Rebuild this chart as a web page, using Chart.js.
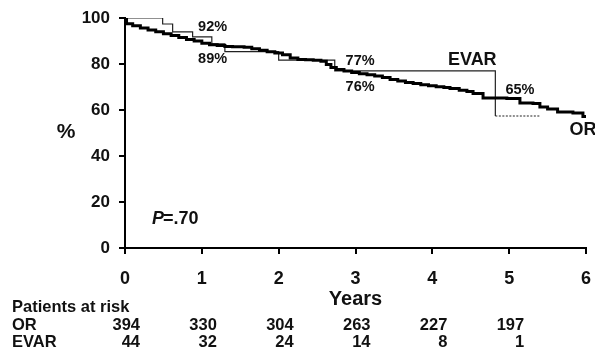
<!DOCTYPE html>
<html>
<head>
<meta charset="utf-8">
<script src="https://cdn.jsdelivr.net/npm/chart.js@4.4.1/dist/chart.umd.min.js"></script>
<style>
  html, body { margin: 0; padding: 0; background: #fff; }
  #wrap { width: 595px; height: 352px; }
</style>
</head>
<body>
<div id="wrap"><canvas id="km" width="595" height="352"></canvas></div>
<script>
// Kaplan-Meier survival, OR vs EVAR
const orYears = [0, 0.02, 0.1, 0.2, 0.3, 0.4, 0.5, 0.6, 0.7, 0.8, 0.9, 1.0, 1.1, 1.2, 1.3, 1.4,
  1.55, 1.65, 1.75, 1.85, 1.95, 2.05, 2.15, 2.25, 2.35, 2.45, 2.55, 2.62, 2.68, 2.75, 2.85, 2.95,
  3.05, 3.15, 3.25, 3.35, 3.45, 3.55, 3.65, 3.75, 3.85, 3.95, 4.05, 4.15, 4.23, 4.35, 4.45, 4.53, 4.66,
  4.97, 5.14, 5.31, 5.4, 5.5, 5.63, 5.83, 5.96, 6.0];
const orSurv = [100, 97.5, 96.6, 95.6, 94.8, 94.0, 93.2, 92.4, 91.5, 90.7, 90.0, 89.0, 88.4, 88.0, 87.6, 87.5,
  87.3, 86.6, 86.0, 85.3, 84.8, 84.0, 82.6, 82.0, 81.8, 81.6, 81.2, 79.8, 78.5, 77.6, 77.0, 76.3,
  75.8, 75.3, 74.8, 74.1, 73.3, 72.6, 72.0, 71.5, 71.0, 70.5, 70.1, 69.8, 69.4, 68.6, 68.0, 67.2, 65.2,
  65.0, 63.0, 62.8, 61.3, 60.4, 59.1, 58.7, 57.2, 57.2];

const evarYears = [0, 0.49, 0.62, 0.88, 1.13, 1.30, 2.0, 2.73, 4.82, 5.4];
const evarSurv = [100, 97.4, 94.0, 91.8, 88.8, 85.4, 81.7, 77.0, 57.4, 57.4];

const riskYears = [0, 1, 2, 3, 4, 5];
const riskOR = [394, 330, 304, 263, 227, 197];
const riskEVAR = [44, 32, 24, 14, 8, 1];

const pctLabels = ['92%', '89%', '77%', '76%', '65%'];
const pctAt = [[1.14, 96], [1.14, 82.3], [3.06, 81.3], [3.06, 70], [5.14, 68.7]];

const FONT = '"Liberation Sans", Arial, sans-serif';

function toPoints(xs, ys) {
    return xs.map((x, i) => ({ x: x, y: ys[i] }));
}

// draw curve labels and the at-risk table
const extraText = {
    id: 'extraText',
    afterDraw(chart) {
        const ctx = chart.ctx;
        const xs = chart.scales.x;
        const ys = chart.scales.y;
        ctx.save();
        ctx.fillStyle = '#111';
        ctx.textBaseline = 'middle';

        ctx.font = 'bold 14.5px ' + FONT;
        ctx.textAlign = 'center';
        pctLabels.forEach((t, i) => {
            ctx.fillText(t, xs.getPixelForValue(pctAt[i][0]), ys.getPixelForValue(pctAt[i][1]));
        });

        ctx.font = 'bold 18px ' + FONT;
        ctx.fillText('EVAR', xs.getPixelForValue(4.52), ys.getPixelForValue(81.7));
        ctx.fillText('OR', xs.getPixelForValue(5.96), ys.getPixelForValue(51.3));

        ctx.textAlign = 'left';
        ctx.font = 'bold italic 18px ' + FONT;
        ctx.fillText('P', 152, 219);
        const pw = ctx.measureText('P').width;
        ctx.font = 'bold 18px ' + FONT;
        ctx.fillText('=.70', 152 + pw - 1, 219);

        // axis titles
        ctx.textAlign = 'center';
        ctx.font = 'bold 21px ' + FONT;
        ctx.fillText('%', 66, 132);
        ctx.font = 'bold 20px ' + FONT;
        ctx.fillText('Years', xs.getPixelForValue(3), 299);

        // patients at risk
        ctx.font = 'bold 16.5px ' + FONT;
        ctx.textAlign = 'left';
        ctx.fillText('Patients at risk', 12, 307);
        ctx.fillText('OR', 12, 325);
        ctx.fillText('EVAR', 12, 342);
        ctx.textAlign = 'right';
        riskYears.forEach((yr, i) => {
            const px = xs.getPixelForValue(yr) + 15;
            ctx.fillText(String(riskOR[i]), px, 325);
            ctx.fillText(String(riskEVAR[i]), px, 342);
        });
        ctx.restore();
    }
};

const ctx = document.getElementById('km').getContext('2d');
new Chart(ctx, {
    type: 'line',
    data: {
        datasets: [
            {
                label: 'OR',
                data: toPoints(orYears, orSurv),
                borderColor: '#000',
                borderWidth: 3,
                stepped: true,
                pointRadius: 0,
                fill: false
            },
            {
                label: 'EVAR',
                data: toPoints(evarYears, evarSurv),
                borderColor: '#222',
                borderWidth: 1.2,
                stepped: true,
                pointRadius: 0,
                fill: false,
                segment: {
                    borderDash: c => c.p0DataIndex === evarYears.length - 2 ? [2, 1.5] : undefined
                }
            }
        ]
    },
    options: {
        responsive: false,
        animation: false,
        layout: { padding: { top: 18, right: 9, left: 0, bottom: 0 } },
        plugins: {
            legend: { display: false },
            tooltip: { enabled: false }
        },
        scales: {
            x: {
                type: 'linear',
                min: 0,
                max: 6,
                ticks: {
                    stepSize: 1,
                    color: '#111',
                    padding: 14,
                    font: { family: FONT, size: 18, weight: 'bold' }
                },
                grid: { drawOnChartArea: false, drawTicks: true, tickLength: 6, color: '#000', lineWidth: 2 },
                border: { display: true, color: '#000', width: 2 },
                afterFit(scale) {
                    scale.height = 104;
                    scale.paddingLeft = 0;
                    scale.paddingRight = 0;
                }
            },
            y: {
                min: 0,
                max: 100,
                ticks: {
                    stepSize: 20,
                    color: '#111',
                    padding: 9,
                    font: { family: FONT, size: 17, weight: 'bold' }
                },
                grid: { drawOnChartArea: false, drawTicks: true, tickLength: 6, color: '#000', lineWidth: 2 },
                border: { display: true, color: '#000', width: 2 },
                afterFit(scale) {
                    scale.width = 125;
                    scale.paddingTop = 0;
                    scale.paddingBottom = 0;
                }
            }
        }
    },
    plugins: [extraText]
});
</script>
</body>
</html>
